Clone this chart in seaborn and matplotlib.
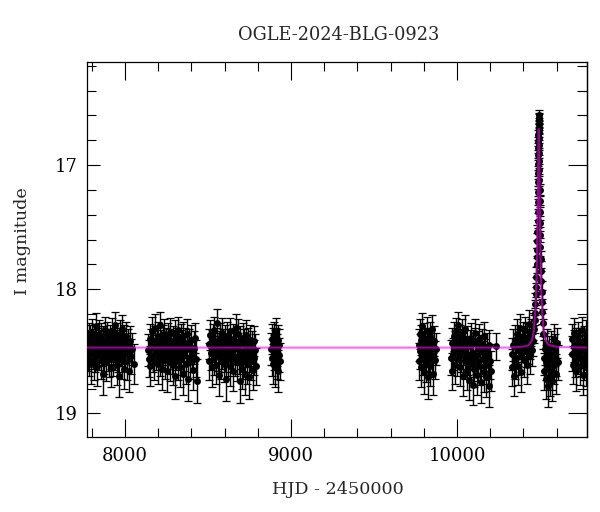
import matplotlib
matplotlib.use("Agg")
import matplotlib.pyplot as plt
from matplotlib.ticker import MultipleLocator
import seaborn as sns
import pandas as pd

# ---------------- data ----------------
title = "OGLE-2024-BLG-0923"
xlabel = "HJD - 2450000"
ylabel = "I magnitude"

# season 1
t1 = [7775, 7778, 7783, 7786, 7790, 7795, 7798, 7802, 7807, 7810,
      7814, 7819, 7822, 7826, 7831, 7834, 7838, 7843, 7846, 7850,
      7855, 7858, 7862, 7867, 7870, 7874, 7879, 7882, 7886, 7891,
      7894, 7898, 7903, 7906, 7910, 7915, 7918, 7922, 7927, 7930,
      7934, 7939, 7942, 7946, 7951, 7954, 7958, 7963, 7966, 7970,
      7975, 7979, 7983, 7988, 7992, 7997, 8001, 8006, 8011, 8016,
      8022, 8029, 8036, 8044, 8053]
m1 = [18.45, 18.52, 18.38, 18.55, 18.41, 18.60, 18.47, 18.35, 18.50, 18.44,
      18.58, 18.40, 18.53, 18.30, 18.48, 18.62, 18.43, 18.36, 18.51, 18.46,
      18.57, 18.39, 18.49, 18.68, 18.42, 18.54, 18.33, 18.47, 18.59, 18.44,
      18.37, 18.52, 18.45, 18.56, 18.41, 18.50, 18.63, 18.34, 18.48, 18.55,
      18.43, 18.29, 18.51, 18.46, 18.61, 18.39, 18.53, 18.70, 18.44, 18.36,
      18.49, 18.57, 18.32, 18.47, 18.64, 18.41, 18.52, 18.38, 18.58, 18.45,
      18.66, 18.42, 18.54, 18.48, 18.60]
e1 = [0.12, 0.14, 0.11, 0.15, 0.12, 0.16, 0.13, 0.11, 0.14, 0.12,
      0.15, 0.12, 0.14, 0.11, 0.13, 0.16, 0.12, 0.11, 0.14, 0.13,
      0.15, 0.12, 0.13, 0.17, 0.12, 0.14, 0.11, 0.13, 0.15, 0.12,
      0.11, 0.14, 0.13, 0.15, 0.12, 0.14, 0.16, 0.11, 0.13, 0.15,
      0.12, 0.11, 0.14, 0.13, 0.16, 0.12, 0.14, 0.17, 0.13, 0.11,
      0.13, 0.15, 0.11, 0.13, 0.16, 0.12, 0.14, 0.12, 0.15, 0.13,
      0.17, 0.12, 0.14, 0.13, 0.16]

# season 2
t2 = [8140, 8144, 8148, 8153, 8157, 8161, 8166, 8170, 8174, 8179,
      8183, 8187, 8192, 8196, 8200, 8205, 8209, 8213, 8218, 8222,
      8226, 8231, 8235, 8239, 8244, 8248, 8252, 8257, 8261, 8265,
      8270, 8274, 8278, 8283, 8287, 8291, 8296, 8300, 8304, 8309,
      8313, 8317, 8322, 8326, 8330, 8335, 8339, 8343, 8348, 8352,
      8357, 8361, 8366, 8371, 8376, 8381, 8386, 8391, 8397, 8403,
      8409, 8415, 8421, 8426, 8431]
m2 = [18.49, 18.56, 18.40, 18.62, 18.45, 18.34, 18.53, 18.47, 18.58, 18.42,
      18.31, 18.51, 18.44, 18.60, 18.38, 18.49, 18.55, 18.29, 18.46, 18.64,
      18.41, 18.52, 18.36, 18.48, 18.57, 18.43, 18.66, 18.39, 18.50, 18.45,
      18.59, 18.35, 18.47, 18.54, 18.42, 18.61, 18.46, 18.70, 18.37, 18.51,
      18.44, 18.58, 18.33, 18.49, 18.63, 18.40, 18.55, 18.46, 18.68, 18.38,
      18.52, 18.43, 18.60, 18.36, 18.48, 18.72, 18.45, 18.57, 18.41, 18.53,
      18.65, 18.47, 18.39, 18.56, 18.74]
e2 = [0.13, 0.15, 0.12, 0.16, 0.13, 0.12, 0.14, 0.13, 0.15, 0.12,
      0.11, 0.14, 0.13, 0.16, 0.12, 0.13, 0.15, 0.11, 0.13, 0.17,
      0.12, 0.14, 0.12, 0.13, 0.15, 0.12, 0.17, 0.12, 0.14, 0.13,
      0.15, 0.12, 0.13, 0.14, 0.12, 0.16, 0.13, 0.18, 0.12, 0.14,
      0.13, 0.15, 0.11, 0.13, 0.16, 0.12, 0.14, 0.13, 0.17, 0.12,
      0.14, 0.12, 0.16, 0.12, 0.13, 0.18, 0.13, 0.15, 0.12, 0.14,
      0.16, 0.13, 0.12, 0.15, 0.18]

# season 3
t3 = [8505, 8509, 8513, 8518, 8522, 8526, 8531, 8535, 8539, 8544,
      8548, 8552, 8557, 8561, 8565, 8570, 8574, 8578, 8583, 8587,
      8591, 8596, 8600, 8604, 8609, 8613, 8617, 8622, 8626, 8630,
      8635, 8639, 8643, 8648, 8652, 8656, 8661, 8665, 8669, 8674,
      8678, 8682, 8687, 8691, 8695, 8700, 8704, 8708, 8713, 8717,
      8721, 8726, 8730, 8735, 8740, 8745, 8750, 8755, 8760, 8765,
      8770, 8775, 8780, 8785, 8790]
m3 = [18.44, 18.58, 18.37, 18.51, 18.46, 18.63, 18.40, 18.33, 18.55, 18.48,
      18.61, 18.27, 18.43, 18.52, 18.69, 18.39, 18.47, 18.57, 18.35, 18.50,
      18.44, 18.60, 18.41, 18.53, 18.72, 18.38, 18.49, 18.56, 18.45, 18.34,
      18.62, 18.47, 18.53, 18.40, 18.66, 18.46, 18.55, 18.43, 18.31, 18.59,
      18.48, 18.36, 18.54, 18.74, 18.42, 18.51, 18.64, 18.39, 18.57, 18.45,
      18.68, 18.50, 18.37, 18.60, 18.44, 18.71, 18.53, 18.41, 18.58, 18.47,
      18.65, 18.42, 18.55, 18.49, 18.62]
e3 = [0.12, 0.15, 0.12, 0.14, 0.13, 0.16, 0.12, 0.11, 0.14, 0.13,
      0.15, 0.11, 0.12, 0.14, 0.17, 0.12, 0.13, 0.15, 0.12, 0.14,
      0.12, 0.15, 0.12, 0.14, 0.18, 0.12, 0.13, 0.14, 0.13, 0.11,
      0.16, 0.13, 0.14, 0.12, 0.16, 0.13, 0.15, 0.12, 0.11, 0.15,
      0.13, 0.12, 0.14, 0.18, 0.12, 0.13, 0.16, 0.12, 0.15, 0.13,
      0.17, 0.13, 0.12, 0.16, 0.13, 0.17, 0.14, 0.12, 0.15, 0.13,
      0.16, 0.12, 0.14, 0.13, 0.15]

# season 4
t4 = [8880, 8883, 8886, 8889, 8892, 8895, 8898, 8901, 8904, 8907,
      8910, 8913, 8916, 8919, 8922, 8925, 8928, 8931]
m4 = [18.48, 18.40, 18.55, 18.44, 18.60, 18.38, 18.51, 18.46, 18.62, 18.43,
      18.35, 18.57, 18.49, 18.66, 18.41, 18.53, 18.45, 18.58]
e4 = [0.13, 0.12, 0.15, 0.13, 0.16, 0.12, 0.14, 0.13, 0.17, 0.12,
      0.12, 0.15, 0.13, 0.17, 0.12, 0.14, 0.13, 0.15]

# season 5
t5 = [9768, 9771, 9775, 9778, 9782, 9785, 9789, 9792, 9796, 9799,
      9803, 9806, 9810, 9813, 9817, 9820, 9824, 9827, 9831, 9835,
      9839, 9843, 9847, 9851, 9856, 9861, 9866, 9871]
m5 = [18.45, 18.58, 18.36, 18.50, 18.63, 18.41, 18.30, 18.54, 18.47, 18.67,
      18.39, 18.52, 18.44, 18.60, 18.34, 18.49, 18.71, 18.43, 18.56, 18.38,
      18.62, 18.46, 18.32, 18.53, 18.68, 18.42, 18.57, 18.48]
e5 = [0.13, 0.15, 0.12, 0.14, 0.16, 0.12, 0.11, 0.15, 0.13, 0.17,
      0.12, 0.14, 0.13, 0.15, 0.12, 0.13, 0.17, 0.12, 0.15, 0.12,
      0.16, 0.13, 0.11, 0.14, 0.17, 0.12, 0.15, 0.13]

# season 6
t6 = [9964, 9968, 9972, 9977, 9981, 9985, 9990, 9994, 9998, 10003,
      10007, 10011, 10016, 10020, 10024, 10029, 10033, 10037, 10042, 10046,
      10050, 10055, 10059, 10063, 10068, 10072, 10076, 10081, 10085, 10089,
      10094, 10098, 10102, 10107, 10111, 10115, 10120, 10124, 10128, 10133,
      10137, 10141, 10146, 10150, 10155, 10160, 10165, 10170, 10175, 10180,
      10185, 10190, 10195, 10200, 10204, 10234]
m6 = [18.55, 18.66, 18.43, 18.52, 18.38, 18.61, 18.47, 18.34, 18.56, 18.44,
      18.29, 18.50, 18.63, 18.41, 18.53, 18.36, 18.48, 18.70, 18.45, 18.58,
      18.32, 18.51, 18.66, 18.42, 18.55, 18.73, 18.46, 18.60, 18.39, 18.52,
      18.77, 18.57, 18.64, 18.43, 18.35, 18.54, 18.69, 18.47, 18.59, 18.40,
      18.62, 18.50, 18.75, 18.44, 18.56, 18.67, 18.38, 18.53, 18.71, 18.48,
      18.61, 18.78, 18.45, 18.58, 18.66, 18.46]
e6 = [0.14, 0.15, 0.12, 0.13, 0.12, 0.15, 0.13, 0.11, 0.14, 0.12,
      0.11, 0.13, 0.15, 0.12, 0.14, 0.12, 0.13, 0.16, 0.12, 0.14,
      0.11, 0.13, 0.15, 0.12, 0.14, 0.16, 0.13, 0.15, 0.12, 0.13,
      0.16, 0.14, 0.15, 0.12, 0.11, 0.14, 0.16, 0.13, 0.15, 0.12,
      0.15, 0.13, 0.17, 0.12, 0.14, 0.16, 0.12, 0.13, 0.16, 0.13,
      0.15, 0.17, 0.12, 0.14, 0.16, 0.11]

# season 7, before the event
t7 = [10330, 10334, 10339, 10343, 10348, 10352, 10357, 10361, 10366, 10370,
      10375, 10379, 10384, 10388, 10393, 10397, 10402, 10406, 10411, 10415,
      10420, 10424, 10429, 10433, 10438, 10442, 10447, 10451, 10456, 10460]
m7 = [18.63, 18.52, 18.45, 18.70, 18.58, 18.41, 18.55, 18.36, 18.49, 18.62,
      18.44, 18.31, 18.53, 18.67, 18.46, 18.38, 18.57, 18.42, 18.33, 18.50,
      18.61, 18.39, 18.47, 18.28, 18.54, 18.44, 18.35, 18.49, 18.30, 18.42]
e7 = [0.15, 0.13, 0.13, 0.16, 0.14, 0.12, 0.14, 0.12, 0.13, 0.15,
      0.12, 0.11, 0.14, 0.16, 0.13, 0.12, 0.14, 0.12, 0.11, 0.13,
      0.15, 0.12, 0.13, 0.11, 0.14, 0.12, 0.11, 0.13, 0.11, 0.12]

# season 7, the microlensing event
tp = [10464, 10467, 10470, 10472, 10474, 10476, 10478, 10480, 10481, 10482,
      10483, 10484, 10485, 10485.7, 10486.4, 10487, 10487.6, 10488.2, 10488.8, 10489.3,
      10489.8, 10490.2, 10490.6, 10491, 10491.4, 10491.8, 10492.2, 10492.6, 10493, 10493.4,
      10493.8, 10494.3, 10494.8, 10495.4, 10496, 10496.7, 10497.4, 10498.2, 10499, 10500,
      10501, 10502.5, 10504, 10505.5, 10507, 10509, 10511, 10513, 10516, 10519]
mp = [18.32, 18.25, 18.19, 18.12, 18.04, 17.98, 17.90, 17.80, 17.74, 17.68,
      17.61, 17.54, 17.45, 17.38, 17.30, 17.22, 17.14, 17.06, 16.99, 16.92,
      16.86, 16.81, 16.76, 16.71, 16.66, 16.62, 16.60, 16.63, 16.68, 16.73,
      16.78, 16.84, 16.90, 16.97, 17.04, 17.12, 17.20, 17.29, 17.38, 17.47,
      17.56, 17.66, 17.76, 17.85, 17.93, 18.02, 18.10, 18.18, 18.27, 18.36]
ep = [0.11, 0.10, 0.10, 0.09, 0.09, 0.08, 0.08, 0.07, 0.07, 0.07,
      0.06, 0.06, 0.06, 0.06, 0.05, 0.05, 0.05, 0.05, 0.05, 0.04,
      0.04, 0.04, 0.04, 0.04, 0.04, 0.04, 0.045, 0.04, 0.04, 0.04,
      0.04, 0.04, 0.04, 0.05, 0.05, 0.05, 0.05, 0.05, 0.06, 0.06,
      0.06, 0.07, 0.07, 0.08, 0.08, 0.09, 0.09, 0.10, 0.11, 0.12]

# season 7, after the event
tr = [10522, 10526, 10530, 10534, 10538, 10542, 10546, 10550, 10554, 10558,
      10562, 10566, 10570, 10574, 10578, 10582, 10586, 10590, 10594, 10598,
      10602, 10606]
mr = [18.55, 18.66, 18.48, 18.72, 18.59, 18.44, 18.78, 18.62, 18.51, 18.70,
      18.57, 18.46, 18.66, 18.74, 18.53, 18.40, 18.61, 18.49, 18.68, 18.56,
      18.43, 18.59]
er = [0.14, 0.15, 0.13, 0.16, 0.14, 0.12, 0.17, 0.15, 0.13, 0.16,
      0.14, 0.12, 0.15, 0.16, 0.13, 0.12, 0.15, 0.13, 0.16, 0.14,
      0.12, 0.14]

# season 8
t8 = [10690, 10694, 10698, 10702, 10706, 10710, 10714, 10718, 10722, 10726,
      10730, 10734, 10738, 10742, 10746, 10750, 10754, 10758, 10762, 10766,
      10770, 10774, 10778, 10782]
m8 = [18.52, 18.40, 18.61, 18.46, 18.35, 18.57, 18.44, 18.66, 18.49, 18.38,
      18.54, 18.43, 18.62, 18.47, 18.56, 18.33, 18.50, 18.69, 18.42, 18.58,
      18.45, 18.63, 18.37, 18.53]
e8 = [0.14, 0.12, 0.15, 0.13, 0.12, 0.14, 0.13, 0.16, 0.13, 0.12,
      0.14, 0.12, 0.15, 0.13, 0.14, 0.11, 0.13, 0.16, 0.12, 0.15,
      0.13, 0.15, 0.12, 0.14]

# model light curve (magenta)
model_t = [7773, 10300, 10372, 10412, 10432, 10452, 10462, 10472, 10477, 10482,
           10487, 10489, 10490, 10491, 10492, 10493, 10494, 10495, 10497, 10502,
           10507, 10512, 10522, 10532, 10552, 10612, 10781]
model_m = [18.47, 18.47, 18.465, 18.46, 18.45, 18.41, 18.34, 18.16, 17.99, 17.69,
           17.19, 16.94, 16.82, 16.74, 16.71, 16.74, 16.82, 16.94, 17.19, 17.69,
           17.99, 18.16, 18.34, 18.41, 18.45, 18.465, 18.47]

xticks_major = [8000, 9000, 10000]
yticks_major = [17, 18, 19]

# ---------------- build table ----------------
frames = []
for t, m, e in [(t1, m1, e1), (t2, m2, e2), (t3, m3, e3), (t4, m4, e4),
                (t5, m5, e5), (t6, m6, e6), (t7, m7, e7), (tp, mp, ep),
                (tr, mr, er), (t8, m8, e8)]:
    frames.append(pd.DataFrame({"hjd": t, "mag": m, "err": e}))
df = pd.concat(frames, ignore_index=True)
model = pd.DataFrame({"hjd": model_t, "mag": model_m})

# ---------------- plot ----------------
sns.set_theme(style="ticks")
plt.rcParams["font.family"] = ["DejaVu Serif"]
plt.rcParams["axes.linewidth"] = 0.9

W, H = 600, 512
fig = plt.figure(figsize=(W / 100, H / 100), dpi=100)
L, R, T, B = 87.3, 586.7, 62, 437
ax = fig.add_axes([L / W, 1 - B / H, (R - L) / W, (B - T) / H])

ax.errorbar(df["hjd"], df["mag"], yerr=df["err"], fmt="none", ecolor="black",
            elinewidth=1.0, capsize=2.6, capthick=0.9, zorder=2)
sns.scatterplot(data=df, x="hjd", y="mag", color="black", s=25, linewidth=0,
                ax=ax, zorder=3)
sns.lineplot(data=model, x="hjd", y="mag", color="magenta", alpha=0.6,
             linewidth=1.5, sort=False, estimator=None, ax=ax, zorder=4)

ax.set_xlim(7773, 10781)
ax.set_ylim(19.19, 16.17)
ax.set_xticks(xticks_major)
ax.set_yticks(yticks_major)
ax.xaxis.set_minor_locator(MultipleLocator(200))
ax.yaxis.set_minor_locator(MultipleLocator(0.2))
ax.set_xlabel("")
ax.set_ylabel("")
for s in ax.spines.values():
    s.set_color("black")

ax.tick_params(axis="x", which="both", direction="in", top=True, bottom=True,
               colors="black", labelsize=13, pad=7.5, width=0.8)
ax.tick_params(axis="x", which="major", length=13)
ax.tick_params(axis="x", which="minor", length=6.5)
ax.tick_params(axis="y", which="both", direction="in", left=True, right=False,
               colors="black", labelsize=13, pad=7, width=0.8)
ax.tick_params(axis="y", which="major", length=9.4)
ax.tick_params(axis="y", which="minor", length=6.5)

sec = ax.secondary_yaxis("right")
sec.set_yticks(yticks_major)
sec.yaxis.set_minor_locator(MultipleLocator(0.2))
sec.tick_params(axis="y", which="both", direction="in", labelright=False,
                colors="black", width=0.8)
sec.tick_params(axis="y", which="major", length=14)
sec.tick_params(axis="y", which="minor", length=7)
sec.spines["right"].set_color("black")

fig.text(338.5 / W, 1 - 35 / H, title, ha="center", va="center", fontsize=12.8)
fig.text(337.5 / W, 1 - 489 / H, xlabel, ha="center", va="center", fontsize=12.6)
fig.text(23 / W, 1 - 241 / H, ylabel, ha="center", va="center", rotation=90,
         fontsize=12.6)

fig.savefig("out.png", dpi=100, facecolor="white")
